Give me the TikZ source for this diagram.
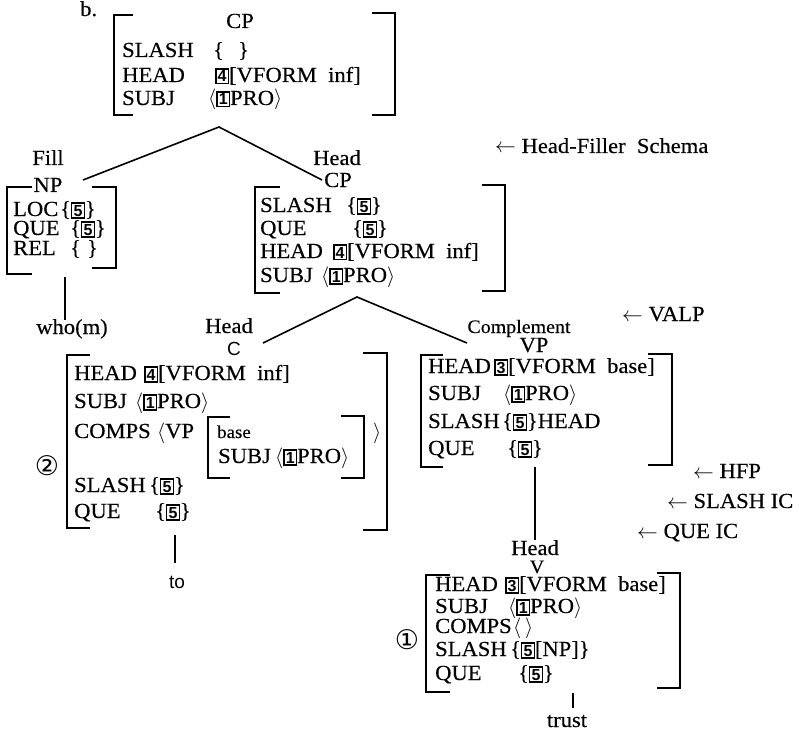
\documentclass[tikz,border=0pt]{standalone}
\usepackage{fontspec}
\setmainfont{Liberation Serif}[FakeStretch=1.05,FakeBold=0.3]
\setsansfont{Liberation Sans}
\newfontfamily\circfont{DejaVu Sans}
\newcommand\bx[1]{{\setlength{\fboxsep}{1.2pt}\setlength{\fboxrule}{1.3pt}\fbox{\fontsize{16}{16}\selectfont\sffamily\bfseries #1}}}
\newcommand\avl{\ensuremath{\langle}}
\newcommand\avr{\ensuremath{\rangle}}
\tikzset{
  avm/.style={anchor=base west, inner sep=0pt},
  lab/.style={anchor=base, inner sep=0pt},
  brk/.style={line width=1.7pt},
  edge/.style={line width=1.6pt},
  circ/.style={inner sep=0pt, font=\circfont\fontsize{27}{27}\selectfont}
}
\begin{document}
\begin{tikzpicture}[x=1pt,y=-1pt,font=\fontsize{21.5}{24}\selectfont]
\useasboundingbox (0,0) rectangle (809,733);

% ---------- top CP ----------
\node[avm] (b) at (80,16) {b.};
\node[lab] (cp0) at (240,28) {CP};
\node[avm] (t1) at (122,57) {SLASH};
\node[avm] (t1v) at (213,57) {\{\hspace{14pt}\}};
\node[avm] (t2) at (122,82) {HEAD};
\node[avm] (t2v) at (215,82) {\bx{4}[VFORM\ \ inf]};
\node[avm] (t3) at (122,105) {SUBJ};
\node[avm] (t3v) at (208,105) {\avl\bx{1}PRO\avr};
\draw[brk] (133,15) -- (114,15) -- (114,115) -- (133,115);
\draw[brk] (372,13) -- (395,13) -- (395,115) -- (372,115);

\coordinate (ap1) at (219,127);
\coordinate (npend) at (83,180);
\coordinate (cpend) at (322,180);
\draw[edge] (npend) -- (ap1) -- (cpend);

\node[avm] (hfs) at (495,153) {$\leftarrow$\ Head-Filler\ \ Schema};

% ---------- filler NP ----------
\node[lab] (fill) at (48,165) {Fill};
\node[lab] (np) at (48,192) {NP};
\node[avm] (n1) at (13,216) {LOC};
\node[avm] (n1v) at (60,216) {\{\bx{5}\}};
\node[avm] (n2) at (13,235) {QUE};
\node[avm] (n2v) at (70,235) {\{\bx{5}\}};
\node[avm] (n3) at (13,255) {REL};
\node[avm] (n3v) at (70,255) {\{\hspace{6pt}\}};
\draw[brk] (32,187) -- (7,187) -- (7,274) -- (32,274);
\draw[brk] (92,187) -- (116,187) -- (116,268) -- (92,268);
\node[lab] (whom) at (72,334) {who(m)};
\coordinate (npb) at (65,277);
\coordinate (whomt) at (65,320);
\draw[edge] (npb) -- (whomt);

% ---------- head CP ----------
\node[lab] (head1) at (337,165) {Head};
\node[lab] (cp1) at (338,187) {CP};
\node[avm] (m1) at (260,212) {SLASH};
\node[avm] (m1v) at (346,212) {\{\bx{5}\}};
\node[avm] (m2) at (260,235) {QUE};
\node[avm] (m2v) at (352,235) {\{\bx{5}\}};
\node[avm] (m3) at (260,258) {HEAD};
\node[avm] (m3v) at (333,258) {\bx{4}[VFORM\ \ inf]};
\node[avm] (m4) at (260,282) {SUBJ};
\node[avm] (m4v) at (321,282) {\avl\bx{1}PRO\avr};
\draw[brk] (280,187) -- (255,187) -- (255,293) -- (280,293);
\draw[brk] (482,185) -- (505,185) -- (505,291) -- (482,291);

\coordinate (ap2) at (357,297);
\coordinate (cend) at (263,343);
\coordinate (vpend) at (467,343);
\draw[edge] (cend) -- (ap2) -- (vpend);

\node[avm] (valp) at (622,321) {$\leftarrow$\ VALP};

% ---------- head C ----------
\node[lab] (head2) at (229,333) {Head};
\node[lab,font=\sffamily\fontsize{19}{22}\selectfont] (c) at (234,355) {C};
\node[avm] (c1) at (74,380) {HEAD};
\node[avm] (c1v) at (144,380) {\bx{4}[VFORM\ \ inf]};
\node[avm] (c2) at (74,408) {SUBJ};
\node[avm] (c2v) at (135,408) {\avl\bx{1}PRO\avr};
\node[avm] (c3) at (74,438) {COMPS};
\node[avm] (c3v) at (157,438) {\avl VP};
\node[avm,font=\fontsize{18}{20}\selectfont] (c3b) at (217,438) {base};
\node[avm] (c3s) at (218,463) {SUBJ};
\node[avm] (c3sv) at (275,463) {\avl\bx{1}PRO\avr};
\node[avm] (c3r) at (373,438) {\avr};
\draw[brk] (230,417) -- (208,417) -- (208,478) -- (230,478);
\draw[brk] (341,416) -- (364,416) -- (364,478) -- (341,478);
\node[avm] (c4) at (74,492) {SLASH};
\node[avm] (c4v) at (149,492) {\{\bx{5}\}};
\node[avm] (c5) at (74,518) {QUE};
\node[avm] (c5v) at (155,518) {\{\bx{5}\}};
\draw[brk] (90,355) -- (67,355) -- (67,528) -- (90,528);
\draw[brk] (363,353) -- (387,353) -- (387,530) -- (363,530);
\node[circ] (two) at (47,466) {②};
\coordinate (cb) at (175,535);
\coordinate (tot) at (175,563);
\draw[edge] (cb) -- (tot);
\node[lab,font=\sffamily\fontsize{19}{22}\selectfont] (to) at (177,588) {to};

% ---------- complement VP ----------
\node[lab,font=\fontsize{19}{22}\selectfont] (compl) at (519,333) {Complement};
\node[lab] (vp) at (534,352) {VP};
\node[avm] (p1) at (428,373) {HEAD};
\node[avm] (p1v) at (494,373) {\bx{3}[VFORM\ \ base]};
\node[avm] (p2) at (428,400) {SUBJ};
\node[avm] (p2v) at (503,400) {\avl\bx{1}PRO\avr};
\node[avm] (p3) at (428,428) {SLASH};
\node[avm] (p3v) at (502,428) {\{\bx{5}\}HEAD};
\node[avm] (p4) at (428,455) {QUE};
\node[avm] (p4v) at (507,455) {\{\bx{5}\}};
\draw[brk] (443,355) -- (421,355) -- (421,467) -- (443,467);
\draw[brk] (648,354) -- (672,354) -- (672,465) -- (648,465);
\coordinate (vpb) at (535,467);
\coordinate (vt) at (535,540);
\draw[edge] (vpb) -- (vt);

\node[avm] (hfp) at (693,478) {$\leftarrow$\ HFP};
\node[avm] (slic) at (667,508) {$\leftarrow$\ SLASH\ IC};
\node[avm] (queic) at (637,538) {$\leftarrow$\ QUE\ IC};

% ---------- head V ----------
\node[lab] (head3) at (535,555) {Head};
\node[lab,font=\fontsize{19}{22}\selectfont] (v) at (537,573) {V};
\node[avm] (v1) at (435,591) {HEAD};
\node[avm] (v1v) at (505,591) {\bx{3}[VFORM\ \ base]};
\node[avm] (v2) at (435,613) {SUBJ};
\node[avm] (v2v) at (508,613) {\avl\bx{1}PRO\avr};
\node[avm] (v3) at (435,633) {COMPS};
\node[avm] (v3v) at (513,633) {\avl\hspace{4pt}\avr};
\node[avm] (v4) at (435,656) {SLASH};
\node[avm] (v4v) at (510,656) {\{\bx{5}[NP]\}};
\node[avm] (v5) at (435,680) {QUE};
\node[avm] (v5v) at (518,680) {\{\bx{5}\}};
\draw[brk] (450,575) -- (426,575) -- (426,692) -- (450,692);
\draw[brk] (657,573) -- (680,573) -- (680,688) -- (657,688);
\node[circ] (one) at (407,640) {①};
\coordinate (vb) at (573,693);
\coordinate (trt) at (573,708);
\draw[edge] (vb) -- (trt);
\node[lab] (trust) at (567,727) {trust};
\end{tikzpicture}
\end{document}
